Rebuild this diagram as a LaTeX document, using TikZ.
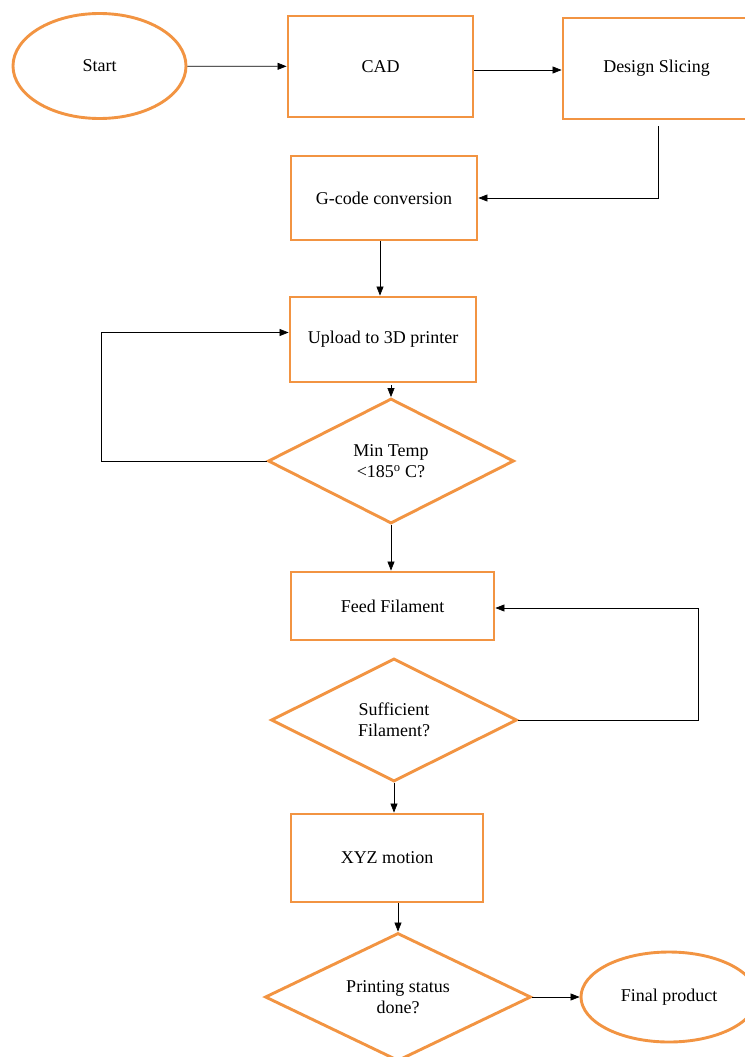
\documentclass[tikz,border=0pt]{standalone}
\usepackage{fontspec}
\setmainfont{Liberation Serif}
\usetikzlibrary{shapes.geometric,arrows.meta}
\definecolor{boxor}{RGB}{242,148,66}
\tikzset{
  base/.style={draw=boxor, line width=2.9pt, fill=white, align=center, inner sep=0pt,
    font=\fontsize{18}{21}\selectfont},
  procbox/.style={base, rectangle},
  termbox/.style={base, ellipse},
  decbox/.style={base, diamond, shape aspect=2},
  arr/.style={draw=black, line width=0.7pt, -{Triangle[length=9pt,width=7pt]}}
}
\begin{document}
\begin{tikzpicture}[x=1pt,y=-1pt]
\useasboundingbox (0,0) rectangle (744,1057);
\node[termbox, minimum width=173pt, minimum height=105pt] (start) at (99.5,66) {Start};
\node[procbox, minimum width=185pt, minimum height=101pt] (cad) at (380.5,66.5) {CAD};
\node[procbox, minimum width=187pt, minimum height=101pt] (design) at (656.5,68.5) {Design Slicing};
\node[procbox, minimum width=186pt, minimum height=84pt] (gcode) at (384,198) {G-code conversion};
\node[procbox, minimum width=186pt, minimum height=85pt] (upload) at (383,339.5) {Upload to 3D printer};
\node[decbox, minimum width=246pt, minimum height=125pt] (d1) at (391,461) {Min Temp\\<185\textsuperscript{o} C?};
\node[procbox, minimum width=203pt, minimum height=68pt] (feed) at (392.5,606) {Feed Filament};
\node[decbox, minimum width=246pt, minimum height=123pt] (d2) at (394,720) {Sufficient\\Filament?};
\node[procbox, minimum width=192pt, minimum height=88pt] (xyz) at (387,858) {XYZ motion};
\node[decbox, minimum width=266pt, minimum height=128pt] (d3) at (398,997) {Printing status\\done?};
\node[termbox, minimum width=176pt, minimum height=90pt] (final) at (669,997) {Final product};

\draw[arr] (start) -- (cad);
\draw[arr] ([yshift=-3.5pt]cad.east) -- ([yshift=-1.5pt]design.west);
\draw[arr] ([xshift=1.5pt,yshift=-6pt]design.south) |- (gcode.east);
\coordinate (g1) at ([xshift=-4pt]gcode.south);
\draw[arr] (g1) -- (g1 |- upload.north);
\coordinate (u1) at ([yshift=-2pt]upload.south -| d1.north);
\draw[arr] (u1) -- (d1.north);
\draw[arr] (d1.west) -- ++(-165,0) |- ([yshift=7pt]upload.west);
\draw[arr] (d1.south) -- (d1.south |- feed.north);
\draw[arr] (d2.east) -- ++(180,0) |- ([yshift=-2pt]feed.east);
\draw[arr] (d2.south) -- (d2.south |- xyz.north);
\draw[arr] (d3.north |- xyz.south) -- (d3.north);
\draw[arr] (d3.east) -- (final.west);
\end{tikzpicture}
\end{document}
